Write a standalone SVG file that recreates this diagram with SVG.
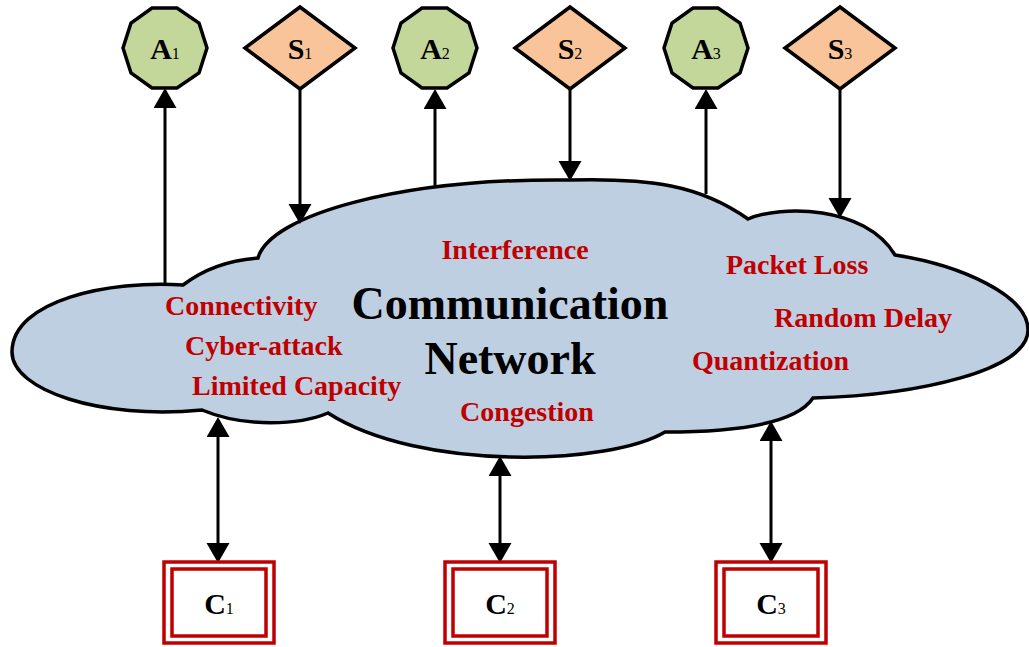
<svg xmlns="http://www.w3.org/2000/svg" width="1029" height="647" viewBox="0 0 1029 647">
<style>
.t{font-family:"Liberation Serif","Times New Roman",serif;font-weight:bold}
.lbl{font-size:28px;fill:#C00000}
.main{font-size:46px;fill:#000}
.nt{font-size:30px;fill:#000;text-anchor:middle}
.sub{font-size:16px;font-weight:normal}
.act{fill:#C4D79B;stroke:#000;stroke-width:3.5}
.sen{fill:#F9C499;stroke:#000;stroke-width:3.5}
.box{fill:#fff;stroke:#C00000;stroke-width:3.5}
.ln{stroke:#000;stroke-width:3;fill:none}
</style>
<defs>
<marker id="ah" markerUnits="userSpaceOnUse" markerWidth="22" markerHeight="24" refX="9" refY="11.5" orient="auto-start-reverse" viewBox="0 0 22 24">
<path d="M0,0 L20,11.5 L0,23 z" fill="#000"/>
</marker>
</defs>
<g id="cloud">
<path d="M183,285 C205,268 230,260 258,258 C270,215 400,178 570,180 C650,178 700,185 748,219 C780,205 865,205 895,255 C960,265 1028,295 1028,330 C1028,370 920,395 813,398 C795,425 730,432 665,432 C610,465 420,472 328,413 C300,425 245,428 202,410 C100,420 12,390 12,352 C12,300 110,280 183,285 Z" fill="#BFCFE2" stroke="#000" stroke-width="3.5"/>
<text class="t lbl" x="515" y="259" text-anchor="middle">Interference</text>
<text class="t lbl" x="165" y="315">Connectivity</text>
<text class="t lbl" x="185" y="355">Cyber-attack</text>
<text class="t lbl" x="192" y="395">Limited Capacity</text>
<text class="t lbl" x="527" y="421" text-anchor="middle">Congestion</text>
<text class="t lbl" x="726" y="274">Packet Loss</text>
<text class="t lbl" x="774" y="327">Random Delay</text>
<text class="t lbl" x="692" y="370">Quantization</text>
<text class="t main" x="510" y="319" text-anchor="middle">Communication</text>
<text class="t main" x="510" y="374" text-anchor="middle">Network</text>
</g>
<g id="connectors">
<line class="ln" x1="165" y1="283" x2="165" y2="99" marker-end="url(#ah)"/>
<line class="ln" x1="300" y1="89" x2="300" y2="213" marker-end="url(#ah)"/>
<line class="ln" x1="435" y1="188" x2="435" y2="100" marker-end="url(#ah)"/>
<line class="ln" x1="570" y1="89" x2="570" y2="170" marker-end="url(#ah)"/>
<line class="ln" x1="706" y1="194" x2="706" y2="100" marker-end="url(#ah)"/>
<line class="ln" x1="840" y1="89" x2="840" y2="207" marker-end="url(#ah)"/>
<line class="ln" x1="218" y1="428" x2="218" y2="552" marker-start="url(#ah)" marker-end="url(#ah)"/>
<line class="ln" x1="500" y1="467" x2="500" y2="552" marker-start="url(#ah)" marker-end="url(#ah)"/>
<line class="ln" x1="771" y1="432" x2="771" y2="552" marker-start="url(#ah)" marker-end="url(#ah)"/>
</g>
<g id="A1">
<polygon class="act" points="207,48 199,73 177,88 152,88 131,73 123,48 131,23 152,8 177,8 199,23"/>
<text class="t nt" x="165" y="59">A<tspan class="sub">1</tspan></text>
</g>
<g id="S1">
<polygon class="sen" points="300,7 355,48 300,89 245,48"/>
<text class="t nt" x="300" y="59">S<tspan class="sub">1</tspan></text>
</g>
<g id="A2">
<polygon class="act" points="477,48 469,73 447,88 422,88 401,73 393,48 401,23 422,8 447,8 469,23"/>
<text class="t nt" x="435" y="59">A<tspan class="sub">2</tspan></text>
</g>
<g id="S2">
<polygon class="sen" points="570,7 625,48 570,89 515,48"/>
<text class="t nt" x="570" y="59">S<tspan class="sub">2</tspan></text>
</g>
<g id="A3">
<polygon class="act" points="748,48 740,73 718,88 693,88 672,73 664,48 672,23 693,8 718,8 740,23"/>
<text class="t nt" x="706" y="59">A<tspan class="sub">3</tspan></text>
</g>
<g id="S3">
<polygon class="sen" points="840,7 895,48 840,89 785,48"/>
<text class="t nt" x="840" y="59">S<tspan class="sub">3</tspan></text>
</g>
<g id="C1">
<rect class="box" x="164" y="562" width="110" height="81"/>
<rect class="box" x="172" y="569" width="94" height="67"/>
<text class="t nt" x="219" y="614">C<tspan class="sub">1</tspan></text>
</g>
<g id="C2">
<rect class="box" x="445" y="562" width="110" height="81"/>
<rect class="box" x="453" y="569" width="94" height="67"/>
<text class="t nt" x="500" y="614">C<tspan class="sub">2</tspan></text>
</g>
<g id="C3">
<rect class="box" x="716" y="562" width="110" height="81"/>
<rect class="box" x="724" y="569" width="94" height="67"/>
<text class="t nt" x="771" y="614">C<tspan class="sub">3</tspan></text>
</g>
</svg>
